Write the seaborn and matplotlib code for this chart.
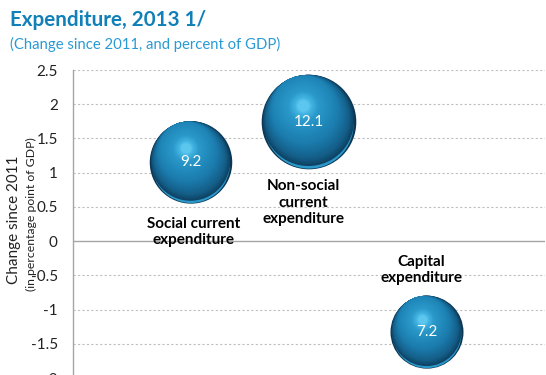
import numpy as np
import pandas as pd
import matplotlib
matplotlib.use("Agg")
import matplotlib.pyplot as plt
import seaborn as sns
from matplotlib.colors import LinearSegmentedColormap

# Data
categories = ["Social current\nexpenditure", "Non-social\ncurrent\nexpenditure", "Capital\nexpenditure"]
x_pos = [1, 2, 3]
change = [1.15, 1.74, -1.33]          # change since 2011, pp of GDP
pct_gdp = [9.2, 12.1, 7.2]            # bubble size: percent of GDP
yticks = [2.5, 2, 1.5, 1, 0.5, 0, -0.5, -1, -1.5, -2]

df = pd.DataFrame({"x": x_pos, "y": change, "size": pct_gdp, "name": categories})

sns.set_style("white")
plt.rcParams["font.family"] = ["Lato", "DejaVu Sans"]

DPI = 100
fig = plt.figure(figsize=(5.46, 3.75), dpi=DPI)
ax = fig.add_axes([73 / 546, -3 / 375, (545 - 73) / 546, (378 - 70) / 375])
ax.set_xlim(0, 4)
ax.set_ylim(-2, 2.5)

# bubble radius in pixels ~ sqrt(value)
K_PX = 13.6
def s_for(radius_px):
    d_pt = 2 * radius_px * 72 / DPI
    return d_pt ** 2

radii = [K_PX * np.sqrt(v) for v in df["size"]]
px_per_x = (545 - 73) / 4
px_per_y = (378 - 70) / 4.5

# base bubbles (shadow side colour)
sns.scatterplot(data=df, x="x", y="y", s=[s_for(r) for r in radii],
                color="#0b3654", edgecolor="none", linewidth=0, ax=ax,
                legend=False, zorder=3)

cmap = LinearSegmentedColormap.from_list(
    "sphere", [(0.0, "#0b3654"), (0.12, "#145e88"), (0.3, "#1b7bac"),
               (0.42, "#1f86b8"), (0.75, "#2a99ca"), (0.9, "#40b2e0"),
               (1.0, "#62cbf2")])
light_dir = np.array([-0.33, 0.944])   # unit vector toward the highlight
N = 50
for xc, yc, r in zip(df["x"], df["y"], radii):
    # reflected light along the lower rim
    ax.scatter([xc], [yc - 0.04 * r / px_per_y], s=s_for(0.945 * r),
               color="#2a98c9", edgecolor="none", linewidth=0, zorder=3.01)
    # layers tangent to the lit edge, then concentric around the highlight
    for i in range(2, N):
        t = i / N
        rr = r * (1 - 0.9 * t)
        m = min(r - rr, 0.36 * r)
        ox, oy = m * light_dir
        ax.scatter([xc + ox / px_per_x], [yc + oy / px_per_y], s=s_for(rr),
                   color=cmap(t), edgecolor="none", linewidth=0,
                   zorder=3.02 + t)

# value labels inside bubbles
for xc, yc, v in zip(df["x"], df["y"], df["size"]):
    ax.text(xc, yc, f"{v:.1f}", color="white", ha="center", va="center",
            fontsize=11, zorder=6)

# category labels
label_offsets = [(2, -50), (-4, -58), (-4, 45)]
for xc, yc, name, off in zip(df["x"], df["y"], df["name"], label_offsets):
    ax.annotate(name, (xc, yc), xytext=off, textcoords="offset points",
                ha="center", va="center", fontsize=11, fontweight="bold",
                color="black", linespacing=1.2, zorder=6)

# grid and axes
for yv in yticks:
    if yv == 0:
        ax.axhline(0, color="#a6a6a6", lw=1.0, zorder=1)
    else:
        ax.axhline(yv, color="#bfbfbf", lw=0.8, ls=(0, (2, 2)), zorder=1)
ax.set_yticks(yticks)
ax.set_yticklabels([f"{t:g}" for t in yticks], fontsize=11, color="#222222")
ax.set_xticks([])
ax.tick_params(axis="y", length=0, pad=11)
for side in ["top", "right", "bottom"]:
    ax.spines[side].set_visible(False)
ax.spines["left"].set_color("#a6a6a6")
ax.spines["left"].set_linewidth(1.0)
ax.set_xlabel("")
ax.set_ylabel("")

# axis titles
fig.text(14 / 546, 1 - 220 / 375, "Change since 2011", rotation=90,
         ha="center", va="center", fontsize=11, color="#222222",
         family=["Liberation Sans Narrow", "Lato", "DejaVu Sans"])
fig.text(31 / 546, 1 - 214 / 375, "(in percentage point of GDP)", rotation=90,
         ha="center", va="center", fontsize=8.8, color="#222222")

# titles
fig.text(10 / 546, 1 - 20 / 375, "Expenditure, 2013 1/", ha="left", va="center",
         fontsize=14.9, fontweight="bold", color="#1180b8")
fig.text(10 / 546, 1 - 44 / 375, "(Change since 2011, and percent of GDP)",
         ha="left", va="center", fontsize=10.7, color="#2a9ad4")

fig.savefig("out.png", dpi=DPI)
